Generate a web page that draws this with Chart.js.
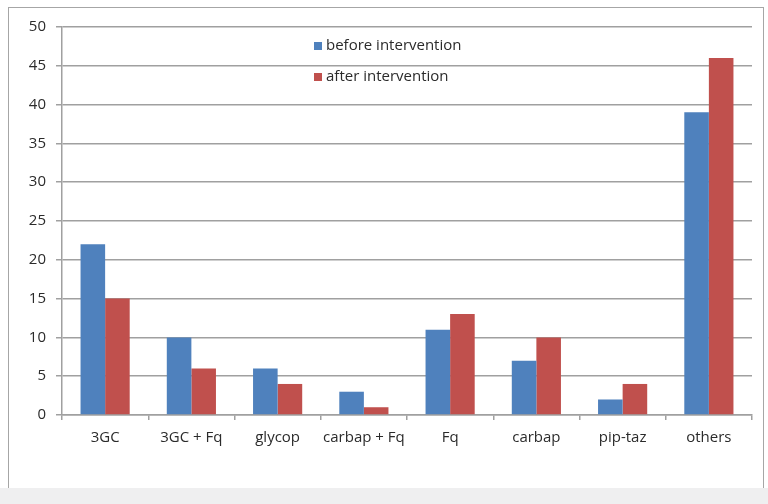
<!DOCTYPE html>
<html>
<head>
<meta charset="utf-8">
<script src="https://cdn.jsdelivr.net/npm/chart.js@4.4.1/dist/chart.umd.min.js"></script>
<style>
  html, body { margin: 0; padding: 0; background: #fff; width: 768px; height: 504px; overflow: hidden; }
  .frame { position: absolute; left: 8px; top: 7px; width: 754px; height: 480px; border: 1px solid #a6a6a6; border-bottom: none; }
  .strip { position: absolute; left: 0; top: 488px; width: 768px; height: 16px; background: #efeff0; }
</style>
</head>
<body>
<div class="frame"><canvas id="myChart" width="754" height="480"></canvas></div>
<div class="strip"></div>
<script>
const categories = ['3GC', '3GC + Fq', 'glycop', 'carbap + Fq', 'Fq', 'carbap', 'pip-taz', 'others'];
const beforeValues = [22, 10, 6, 3, 11, 7, 2, 39];
const afterValues = [15, 6, 4, 1, 13, 10, 4, 46];
const yTicks = [0, 5, 10, 15, 20, 25, 30, 35, 40, 45, 50];

const blue = '#4f81bd';
const red = '#c0504d';
const gridColor = '#a0a0a0';

// legend drawn inside the plot, Excel style
const insideLegend = {
    id: 'insideLegend',
    afterDraw(chart) {
        const c = chart.ctx;
        c.save();
        c.font = '15px "Open Sans"';
        c.textBaseline = 'middle';
        chart.data.datasets.forEach((ds, i) => {
            const y = 38 + i * 31;
            c.fillStyle = ds.backgroundColor;
            c.fillRect(305, y - 4, 8, 8);
            c.fillStyle = '#2b2b2b';
            c.fillText(ds.label, 317, y);
        });
        c.restore();
    }
};

const ctx = document.getElementById('myChart');

new Chart(ctx, {
    type: 'bar',
    data: {
        labels: categories,
        datasets: [
            { label: 'before intervention', data: beforeValues, backgroundColor: blue },
            { label: 'after intervention', data: afterValues, backgroundColor: red }
        ]
    },
    options: {
        responsive: false,
        animation: false,
        layout: { padding: { top: 19, right: 11, bottom: 0, left: 0 } },
        datasets: { bar: { categoryPercentage: 0.57, barPercentage: 1 } },
        plugins: { legend: { display: false }, tooltip: { enabled: false } },
        scales: {
            x: {
                grid: { drawOnChartArea: false, drawTicks: true, tickLength: 5, color: gridColor, lineWidth: 1.5, offset: true },
                border: { color: gridColor, width: 1.5 },
                ticks: { color: '#2b2b2b', font: { family: 'Open Sans', size: 15 }, padding: 9, maxRotation: 0 },
                afterFit(scale) { scale.height = 73; }
            },
            y: {
                min: 0, max: 50,
                afterBuildTicks(scale) { scale.ticks = yTicks.map(v => ({ value: v })); },
                grid: { color: gridColor, lineWidth: 1.5, tickLength: 6 },
                border: { color: gridColor, width: 1.5 },
                ticks: { color: '#2b2b2b', font: { family: 'Open Sans', size: 15 }, padding: 10 },
                afterFit(scale) { scale.width = 53; }
            }
        }
    },
    plugins: [insideLegend]
});
</script>
</body>
</html>
